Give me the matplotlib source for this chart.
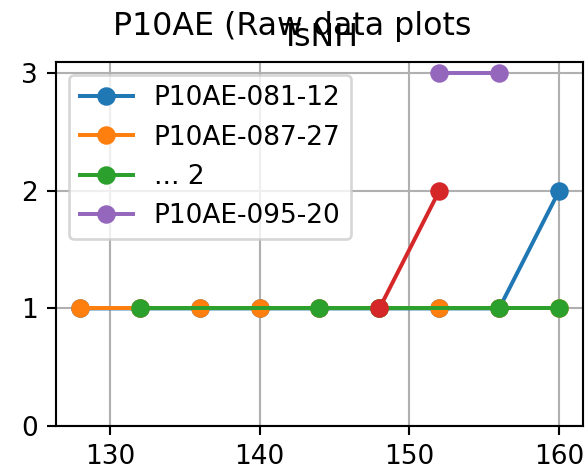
import numpy as np
from matplotlib import pyplot as plt

# raw series
x_081 = [128, 132, 136, 140, 144, 148, 152, 156, 160]
y_081 = [1, 1, 1, 1, 1, 1, 1, 1, 2]

x_087 = [128, 132, 136, 140, 144, 148, 152, 156, 160]
y_087 = [1, 1, 1, 1, 1, 1, 1, 1, 1]

x_grn = [132, 144, 148, 156, 160]
y_grn = [1, 1, 1, 1, 1]

x_red = [148, 152]
y_red = [1, 2]

x_095 = [152, 156]
y_095 = [3, 3]

dpi = 190
fig = plt.figure(figsize=(585 / dpi, 471 / dpi), dpi=dpi)
ax = fig.add_axes([56 / 585, 1 - 426 / 471, 527 / 585, (426 - 61.6) / 471])

ax.plot(x_081, y_081, marker='o', label='P10AE-081-12')
ax.plot(x_087, y_087, marker='o', label='P10AE-087-27')
ax.plot(x_grn, y_grn, marker='o', label='... 2')
ax.plot(x_red, y_red, marker='o', label='_nolegend_')
ax.plot(x_095, y_095, marker='o', label='P10AE-095-20')

ax.set_ylim(bottom=0)
ax.set_yticks([0, 1, 2, 3])
ax.grid(True)
ax.legend(loc='upper left')
ax.set_title('TsNH')
fig.suptitle('P10AE (Raw data plots', y=0.977)

fig.savefig('out.png', dpi=dpi)
